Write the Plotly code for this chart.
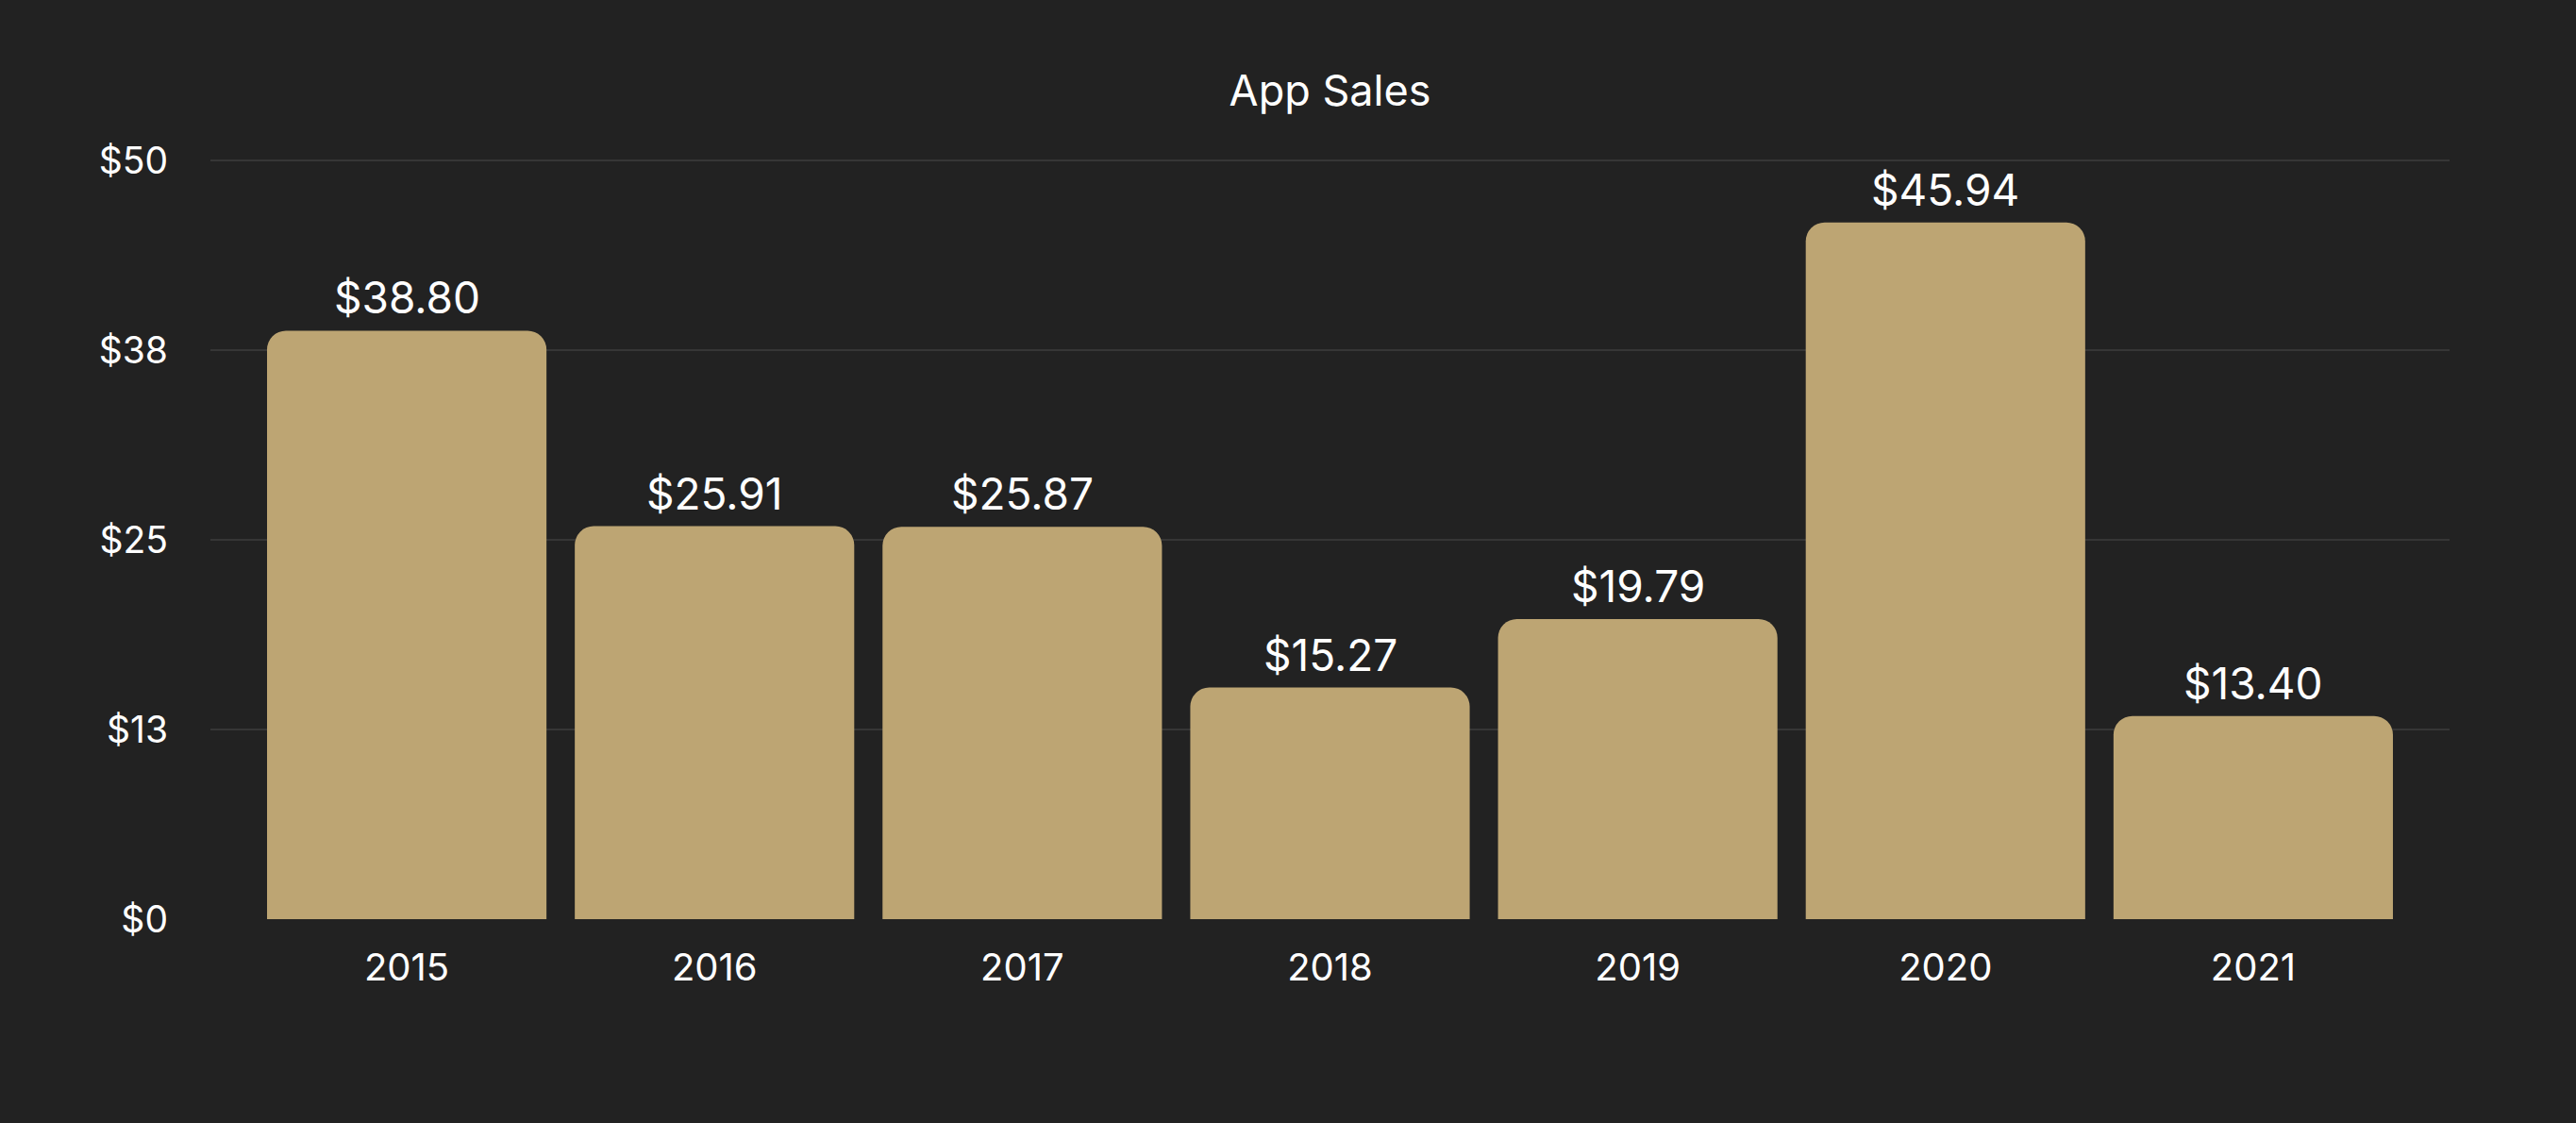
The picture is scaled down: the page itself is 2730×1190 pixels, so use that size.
import plotly.graph_objects as go

years = ["2015", "2016", "2017", "2018", "2019", "2020", "2021"]
sales = [38.80, 25.91, 25.87, 15.27, 19.79, 45.94, 13.40]
y_tick_vals = [0, 12.5, 25, 37.5, 50]
y_tick_text = ["$0", "$13", "$25", "$38", "$50"]
title_text = "App Sales"

BG = "#222222"
BAR = "#BDA573"
GRID = "#363636"
FONT = "Inter, Noto Sans, sans-serif"

fig = go.Figure()
fig.add_trace(go.Bar(
    x=list(range(len(years))),
    y=sales,
    marker=dict(color=BAR, cornerradius=20, line=dict(width=0)),
    width=0.908,
    hoverinfo="skip",
))

for i, v in enumerate(sales):
    fig.add_annotation(
        x=i, y=v, text=f"${v:.2f}", showarrow=False,
        yanchor="bottom", yshift=5,
        font=dict(family=FONT, size=46, color="#FFFFFF"),
    )

fig.update_layout(
    width=2730, height=1190,
    paper_bgcolor=BG, plot_bgcolor=BG,
    margin=dict(l=223, r=134, t=168, b=216),
    showlegend=False,
    title=dict(text=title_text, x=0.5, xref="paper", y=1 - 96 / 1190, yref="container",
               yanchor="middle", xanchor="center",
               font=dict(family=FONT, size=45, color="#FFFFFF")),
    font=dict(family=FONT, color="#FFFFFF"),
)

fig.update_xaxes(
    range=[-0.638, 6.638],
    tickmode="array", tickvals=list(range(len(years))), ticktext=years,
    showgrid=False, zeroline=False, showline=False, ticks="",
    tickfont=dict(family=FONT, size=40, color="#FFFFFF"),
    ticklabelstandoff=24,
)
fig.update_yaxes(
    range=[0, 50.15],
    tickmode="array", tickvals=y_tick_vals, ticktext=y_tick_text,
    showgrid=True, gridcolor=GRID, gridwidth=2,
    zeroline=False, showline=False, ticks="",
    tickfont=dict(family=FONT, size=39, color="#FFFFFF"),
    ticklabelstandoff=44,
)

fig.write_html("out.html")
